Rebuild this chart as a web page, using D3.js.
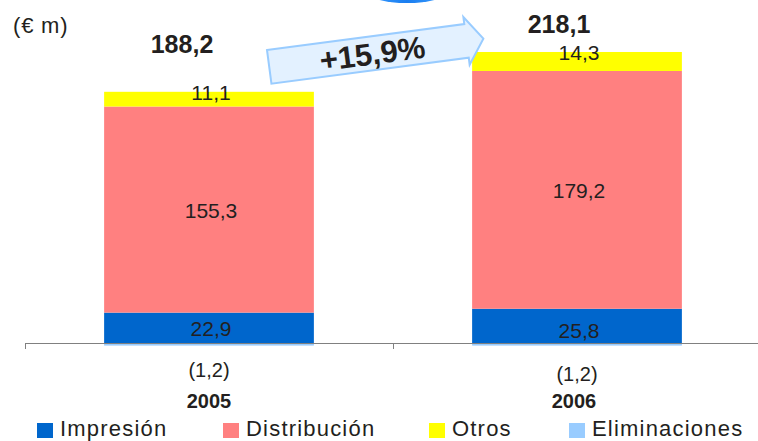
<!DOCTYPE html>
<html><head><meta charset="utf-8">
<script src="https://cdn.jsdelivr.net/npm/d3@7"></script>
<style>
html,body{margin:0;padding:0;background:#fff;}
svg{display:block;font-family:"Liberation Sans",Arial,sans-serif;}
</style></head>
<body>
<svg id="c" width="758" height="441"></svg>
<script>
const years = ["2005", "2006"];
const seriesNames = ["Impresión", "Distribución", "Otros", "Eliminaciones"];
const impresion = [22.9, 25.8];
const distribucion = [155.3, 179.2];
const otros = [11.1, 14.3];
const eliminaciones = [-1.2, -1.2];
const totals = ["188,2", "218,1"];
const segmentLabels = {
  "Impresión": ["22,9", "25,8"],
  "Distribución": ["155,3", "179,2"],
  "Otros": ["11,1", "14,3"]
};
const elimLabels = ["(1,2)", "(1,2)"];
const growthLabel = "+15,9%";
const unitLabel = "(€ m)";

const colors = {
  "Impresión": "#0066cc",
  "Distribución": "#ff8080",
  "Otros": "#ffff00",
  "Eliminaciones": "#99ccff"
};
const textColor = "#231f20";

const svg = d3.select("#c");
const baseY = 343;
const pxPerUnit = 1.327;

const x = d3.scaleBand().domain(years).range([25, 761]).paddingInner(0.43).paddingOuter(0.215);
const y = d3.scaleLinear().domain([0, 220]).range([baseY, baseY - 220 * pxPerUnit]);

const rows = years.map((yr, i) => ({
  year: yr,
  "Impresión": impresion[i],
  "Distribución": distribucion[i],
  "Otros": otros[i],
  "Eliminaciones": eliminaciones[i]
}));

const stack = d3.stack().keys(seriesNames).offset(d3.stackOffsetDiverging);
const stacked = stack(rows);

// decorative blue shape peeking at top
const defs = svg.append("defs");
const grad = defs.append("linearGradient").attr("id", "blob").attr("x1", "0").attr("x2", "1").attr("y1", "0").attr("y2", "0");
grad.append("stop").attr("offset", "0%").attr("stop-color", "#3a9cff");
grad.append("stop").attr("offset", "50%").attr("stop-color", "#1a7ef0");
grad.append("stop").attr("offset", "100%").attr("stop-color", "#3a9cff");
svg.append("ellipse").attr("cx", 407).attr("cy", -8).attr("rx", 40).attr("ry", 11).attr("fill", "url(#blob)");

// bars
stacked.forEach(s => {
  svg.append("g").selectAll("rect").data(s).join("rect")
    .attr("x", d => x(d.data.year))
    .attr("width", x.bandwidth())
    .attr("y", d => y(Math.max(d[0], d[1])))
    .attr("height", d => Math.abs(y(d[0]) - y(d[1])))
    .attr("fill", colors[s.key]);
});

// axis
const step = x.step();
svg.append("line").attr("x1", 25).attr("x2", 758).attr("y1", baseY + 0.5).attr("y2", baseY + 0.5)
  .attr("stroke", "#808080").attr("stroke-width", 1);
[0, 1].forEach(i => {
  const tx = Math.round(25 + i * step) + 0.5;
  svg.append("line").attr("x1", tx).attr("x2", tx).attr("y1", baseY).attr("y2", baseY + 6)
    .attr("stroke", "#808080").attr("stroke-width", 1);
});
// eliminations (negative) drawn on top of axis line
svg.append("g").selectAll("rect").data(stacked[3]).join("rect")
  .attr("x", d => x(d.data.year))
  .attr("width", x.bandwidth())
  .attr("y", baseY + 1)
  .attr("height", d => Math.max(1.5, Math.abs(y(d[0]) - y(d[1]))))
  .attr("fill", colors["Eliminaciones"]);

// segment labels
const labelFont = "21px";
stacked.slice(0, 3).forEach(s => {
  svg.append("g").selectAll("text").data(s).join("text")
    .attr("x", d => x(d.data.year) + x.bandwidth() / 2 + 2)
    .attr("y", (d, i) => s.key === "Otros" ? y(d[1]) + 8 : (y(d[0]) + y(d[1])) / 2 + 8 + (s.key === "Impresión" ? i * 4 : 0))
    .attr("text-anchor", "middle")
    .attr("font-size", labelFont)
    .attr("fill", textColor)
    .text((d, i) => segmentLabels[s.key][i]);
});

// totals
const totalDx = [-27, -18];
const totalDy = [-39, -19];
svg.append("g").selectAll("text").data(rows).join("text")
  .attr("x", (d, i) => x(d.year) + x.bandwidth() / 2 + totalDx[i])
  .attr("y", (d, i) => y(impresion[i] + distribucion[i] + otros[i]) + totalDy[i])
  .attr("text-anchor", "middle")
  .attr("font-size", "25px").attr("font-weight", "bold")
  .attr("fill", textColor)
  .text((d, i) => totals[i]);

// elimination labels under axis
const elimDy = [34, 38];
svg.append("g").selectAll("text").data(years).join("text")
  .attr("x", d => x(d) + x.bandwidth() / 2)
  .attr("y", (d, i) => baseY + elimDy[i])
  .attr("text-anchor", "middle")
  .attr("font-size", "20px")
  .attr("fill", textColor)
  .text((d, i) => elimLabels[i]);

// year labels
svg.append("g").selectAll("text").data(years).join("text")
  .attr("x", (d, i) => x(d) + x.bandwidth() / 2 - i * 3)
  .attr("y", baseY + 65)
  .attr("text-anchor", "middle")
  .attr("font-size", "20px").attr("font-weight", "bold")
  .attr("fill", textColor)
  .text(d => d);

// unit label
svg.append("text").attr("x", 13).attr("y", 33).attr("font-size", "22px")
  .attr("fill", textColor).attr("letter-spacing", "0.8px").text(unitLabel);

// growth arrow
const ag = svg.append("g").attr("transform", "translate(267,50) rotate(-7.5)");
ag.append("path")
  .attr("d", "M0,0 L199,0 L199,-7 L216,17 L199,41 L199,34 L0,34 Z")
  .attr("fill", "#e3f1ff").attr("stroke", "#99ccff").attr("stroke-width", 2).attr("stroke-linejoin", "miter");
ag.append("text").attr("x", 104).attr("y", 17).attr("dy", "0.36em")
  .attr("text-anchor", "middle").attr("font-size", "31px").attr("font-weight", "bold")
  .attr("fill", textColor).text(growthLabel);

// legend
const legendX = [37, 223, 429, 569];
const lg = svg.append("g");
seriesNames.forEach((name, i) => {
  lg.append("rect").attr("x", legendX[i]).attr("y", 423).attr("width", 16).attr("height", 15)
    .attr("fill", colors[name]);
  lg.append("text").attr("x", legendX[i] + 23).attr("y", 436)
    .attr("font-size", "22px").attr("letter-spacing", "1.2px")
    .attr("fill", textColor).text(name);
});
</script>
</body></html>
